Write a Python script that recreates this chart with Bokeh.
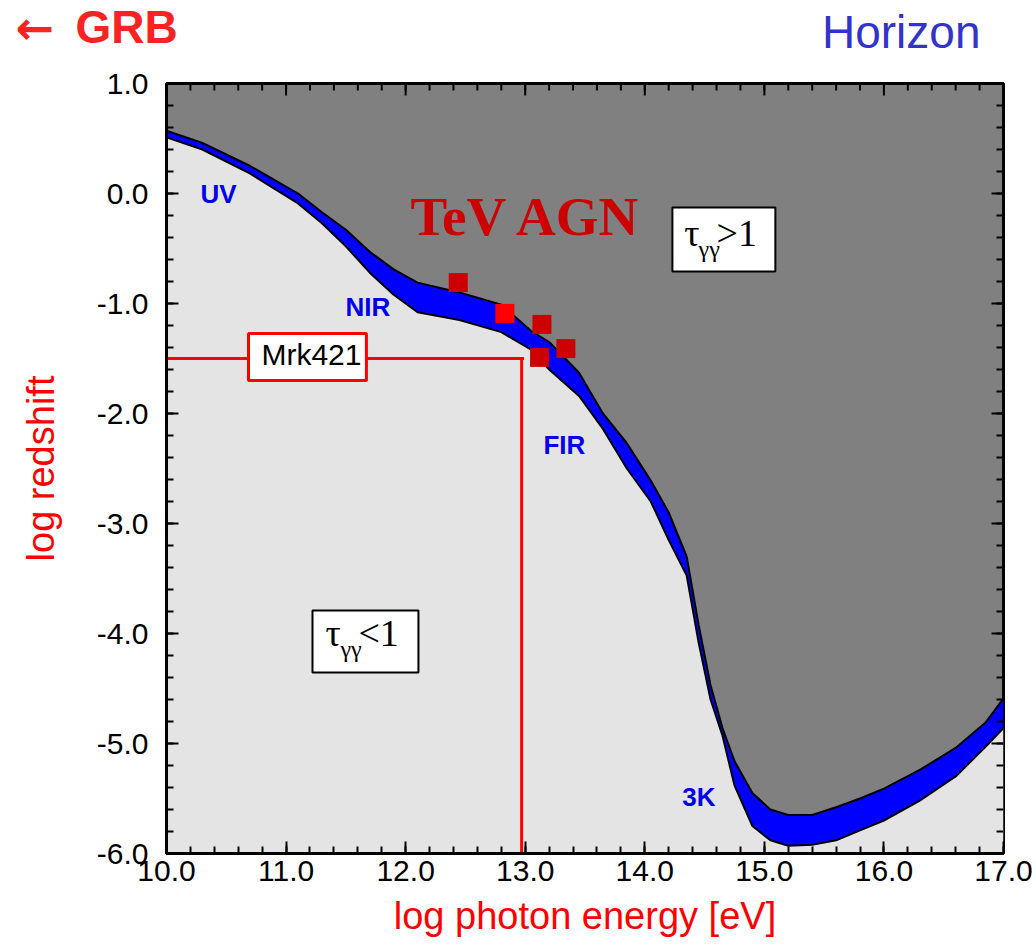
import numpy as np
from bokeh.plotting import figure
from bokeh.layouts import column, row
from bokeh.models import Range1d, FixedTicker, PrintfTickFormatter
from bokeh.embed import file_html
from bokeh.resources import INLINE
from bokeh.core.properties import value

# ---------------- data ----------------
energy = [10.0, 10.3, 10.7, 11.1, 11.3, 11.5, 11.7, 11.9, 12.1, 12.45, 12.8, 13.05, 13.2, 13.45,
          13.65, 13.85, 14.05, 14.2, 14.35, 14.45, 14.55, 14.65, 14.75, 14.9, 15.05,
          15.2, 15.4, 15.6, 15.8, 16.0, 16.3, 16.6, 16.85, 17.0]
horizon_upper = [0.57, 0.46, 0.25, 0.0, -0.17, -0.33, -0.53, -0.69, -0.81, -0.90, -1.01, -1.25, -1.35, -1.63,
                 -2.00, -2.27, -2.61, -2.90, -3.30, -3.92, -4.47, -4.86, -5.16, -5.45, -5.60,
                 -5.65, -5.65, -5.58, -5.50, -5.41, -5.24, -5.04, -4.81, -4.59]
horizon_lower = [0.51, 0.40, 0.18, -0.09, -0.27, -0.48, -0.72, -0.92, -1.08, -1.15, -1.26, -1.42, -1.60, -1.84,
                 -2.14, -2.50, -2.80, -3.15, -3.47, -4.08, -4.60, -4.93, -5.38, -5.75, -5.88,
                 -5.93, -5.92, -5.88, -5.79, -5.70, -5.52, -5.30, -5.03, -4.86]

agn_energy = [12.44, 12.83, 13.14, 13.34, 13.12]
agn_logz = [-0.81, -1.09, -1.19, -1.41, -1.49]
agn_color = ["#cc0000", "#ff0000", "#cc0000", "#cc0000", "#cc0000"]

mrk_energy = 12.97
mrk_logz = -1.5

x_ticks = [10, 11, 12, 13, 14, 15, 16, 17]
y_ticks = [-6, -5, -4, -3, -2, -1, 0, 1]
x_minor = [round(10 + 0.2 * i, 1) for i in range(36)]
y_minor = [round(-6 + 0.2 * i, 1) for i in range(36)]

# band labels
band_names = ["UV", "NIR", "FIR", "3K"]
band_x = [10.284, 11.497, 13.152, 14.314]
band_y = [-0.009, -1.036, -2.282, -5.482]

# boxes (left, right, bottom, top)
box_tau_gt = [14.231, 15.092, -0.709, -0.127]
box_tau_lt = [11.221, 12.107, -4.355, -3.791]
box_mrk = [10.686, 11.672, -1.700, -1.273]

serif = value("Liberation Serif")
sans = value("Liberation Sans")

# ---------------- header strip ----------------
head = figure(width=1036, height=60, x_range=Range1d(0, 1036), y_range=Range1d(60, 0),
              x_axis_type=None, y_axis_type=None, output_backend="svg",
              toolbar_location=None, min_border=0)
head.outline_line_color = None
head.background_fill_color = "white"
head.border_fill_color = "white"
head.text(x=[15], y=[27], text=["←"], text_font=value("DejaVu Sans"), text_font_style="bold",
          text_font_size="46px", text_color="#ff2222", text_baseline="alphabetic")
head.text(x=[75], y=[26.5], text=["GRB"], text_font=sans, text_font_style="bold",
          text_font_size="46px", text_color="#ff2222", text_baseline="alphabetic")
head.text(x=[980], y=[31.5], text=["Horizon"], text_font=sans,
          text_font_size="46px", text_color="#3333cc", text_align="right",
          text_baseline="alphabetic")

# ---------------- main figure ----------------
p = figure(width=1036, height=887, x_range=Range1d(10, 17), y_range=Range1d(-6, 1),
           output_backend="svg", toolbar_location=None,
           min_border_left=166, min_border_right=33, min_border_top=23, min_border_bottom=94)
p.grid.visible = False
p.background_fill_color = "#808080"
p.border_fill_color = "white"
p.outline_line_color = "black"
p.outline_line_width = 3

# regions
p.varea(x=energy, y1=-7, y2=horizon_lower, fill_color="#e4e4e4")
p.varea(x=energy, y1=horizon_lower, y2=horizon_upper, fill_color="#0000ff")
p.line(energy, horizon_upper, line_color="black", line_width=2)
p.line(energy, horizon_lower, line_color="black", line_width=2)

# ticks on top and right frame edges
p.segment(x0=x_ticks, y0=1, x1=x_ticks, y1=1 - 0.109, line_color="black", line_width=2)
p.segment(x0=x_minor, y0=1, x1=x_minor, y1=1 - 0.064, line_color="black", line_width=2)
p.segment(x0=17, y0=y_ticks, x1=17 - 0.1, y1=y_ticks, line_color="black", line_width=2)
p.segment(x0=17, y0=y_minor, x1=17 - 0.0585, y1=y_minor, line_color="black", line_width=2)

# Mrk421 lines
p.line([10, mrk_energy + 0.02], [mrk_logz, mrk_logz], line_color="#ff0000", line_width=3)
p.line([mrk_energy, mrk_energy], [mrk_logz, -6], line_color="#ff0000", line_width=3)

# AGN points
p.scatter(agn_energy, agn_logz, marker="square", size=19, fill_color=agn_color,
          line_color=None)

# boxes
p.quad(left=[box_tau_gt[0], box_tau_lt[0]], right=[box_tau_gt[1], box_tau_lt[1]],
       bottom=[box_tau_gt[2], box_tau_lt[2]], top=[box_tau_gt[3], box_tau_lt[3]],
       fill_color="white", line_color="black", line_width=2)
p.quad(left=[box_mrk[0]], right=[box_mrk[1]], bottom=[box_mrk[2]], top=[box_mrk[3]],
       fill_color="white", line_color="#ff0000", line_width=3)

p.text(x=[11.212], y=[-1.464], text=["Mrk421"], text_font=sans, text_font_size="30px",
       text_color="black", text_align="center", text_baseline="alphabetic")

# tau labels
p.text(x=[14.331, 11.329], y=[-0.359, -3.995], text=["τ", "τ"], text_font=serif,
       text_font_size="38px", text_color="black", text_baseline="alphabetic")
p.text(x=[14.45, 11.455], y=[-0.50, -4.137], text=["γγ", "γγ"], text_font=serif,
       text_font_size="24px", text_color="black", text_baseline="alphabetic")
p.text(x=[14.60, 11.605], y=[-0.359, -3.995], text=[">1", "<1"], text_font=serif,
       text_font_size="38px", text_color="black", text_baseline="alphabetic")

p.text(x=[12.04], y=[-0.21], text=["TeV AGN"], text_font=serif, text_font_style="bold",
       text_font_size="55px", text_color="#cc0000", text_baseline="alphabetic")

p.text(x=band_x, y=band_y, text=band_names, text_font=sans, text_font_style="bold",
       text_font_size="26px", text_color="#0000ee", text_baseline="alphabetic")

# ---------------- axes ----------------
xt = FixedTicker(ticks=x_ticks, minor_ticks=x_minor)
yt = FixedTicker(ticks=y_ticks, minor_ticks=y_minor)

def style(ax):
    ax.major_tick_in = 12
    ax.major_tick_out = 0
    ax.minor_tick_in = 7
    ax.minor_tick_out = 0
    ax.major_tick_line_width = 2
    ax.minor_tick_line_width = 2
    ax.major_tick_line_color = "black"
    ax.minor_tick_line_color = "black"
    ax.axis_line_width = 3
    ax.axis_line_color = "black"
    ax.major_label_text_font = "Liberation Sans"
    ax.major_label_text_font_size = "30px"
    ax.major_label_text_color = "black"
    ax.formatter = PrintfTickFormatter(format="%.1f")
    ax.axis_label_text_font = "Liberation Sans"
    ax.axis_label_text_font_style = "normal"
    ax.axis_label_text_color = "#ff0000"
    ax.axis_label_text_font_size = "38px"

xa = p.xaxis[0]
ya = p.yaxis[0]
xa.ticker = xt
ya.ticker = yt
style(xa)
style(ya)
xa.axis_label = "log photon energy [eV]"
ya.axis_label = "log redshift"
xa.major_label_standoff = 7
ya.major_label_standoff = 18
xa.axis_label_standoff = 11
ya.axis_label_standoff = 32

layout = column(row(head), p)
open("out.html", "w").write(file_html(layout, INLINE))
